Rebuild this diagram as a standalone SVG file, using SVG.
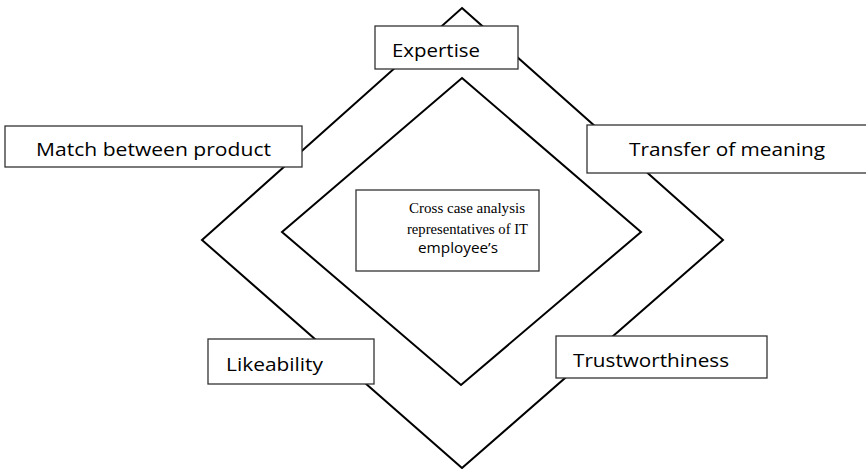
<svg xmlns="http://www.w3.org/2000/svg" width="866" height="469" viewBox="0 0 866 469">
<style>
.dia{fill:none;stroke:#000;stroke-width:2;stroke-linejoin:miter}
.box{fill:#fff;stroke:#333;stroke-width:1.3}
.lbl{font-family:"Open Sans","Liberation Sans",sans-serif;font-size:19px;fill:#000}
.ser{font-family:"Liberation Serif",serif;font-size:15px;fill:#000}
.san{font-family:"Open Sans","Liberation Sans",sans-serif;font-size:14px;fill:#000}
</style>
<rect width="866" height="469" fill="#fff"/>
<g id="connectors">
<polygon class="dia" points="462,8 723,240 462,468 202,240"/>
<polygon class="dia" points="462,78 641,232 461,385 282,232"/>
</g>
<g id="center">
<rect class="box" x="356" y="190" width="183" height="81"/>
<text class="ser" x="409" y="213" textLength="116" lengthAdjust="spacingAndGlyphs">Cross case analysis</text>
<text class="ser" x="407" y="234" textLength="121" lengthAdjust="spacingAndGlyphs">representatives of IT</text>
<text class="san" x="418" y="253" textLength="80" lengthAdjust="spacingAndGlyphs">employee’s</text>
</g>
<g id="expertise">
<rect class="box" x="375" y="26" width="143" height="43"/>
<text class="lbl" x="392" y="57" textLength="88" lengthAdjust="spacingAndGlyphs">Expertise</text>
</g>
<g id="match">
<rect class="box" x="5" y="126" width="297" height="41"/>
<text class="lbl" x="36" y="156" textLength="235" lengthAdjust="spacingAndGlyphs">Match between product</text>
</g>
<g id="transfer">
<rect class="box" x="587" y="125" width="280" height="48"/>
<text class="lbl" x="629" y="156" textLength="196" lengthAdjust="spacingAndGlyphs">Transfer of meaning</text>
</g>
<g id="likeability">
<rect class="box" x="208" y="339" width="166" height="45"/>
<text class="lbl" x="226" y="371" textLength="97" lengthAdjust="spacingAndGlyphs">Likeability</text>
</g>
<g id="trustworthiness">
<rect class="box" x="556" y="336" width="211" height="42"/>
<text class="lbl" x="573" y="367" textLength="156" lengthAdjust="spacingAndGlyphs">Trustworthiness</text>
</g>
</svg>
